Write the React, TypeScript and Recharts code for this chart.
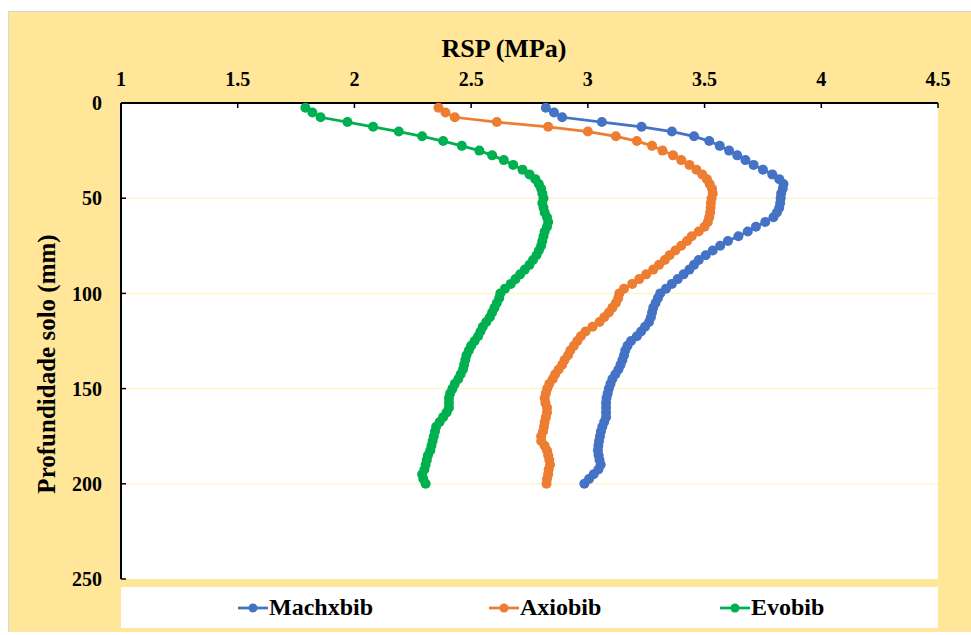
import React from "react";
import { LineChart, Line, XAxis, YAxis, CartesianGrid } from "recharts";

const DEPTHS = [
  2.5, 5, 7.5, 10, 12.5, 15, 17.5, 20, 22.5, 25, 27.5, 30, 32.5, 35, 37.5, 40, 42.5, 45, 47.5, 50,
  52.5, 55, 57.5, 60, 62.5, 65, 67.5, 70, 72.5, 75, 77.5, 80, 82.5, 85, 87.5, 90, 92.5, 95, 97.5, 100,
  102.5, 105, 107.5, 110, 112.5, 115, 117.5, 120, 122.5, 125, 127.5, 130, 132.5, 135, 137.5, 140, 142.5, 145, 147.5, 150,
  152.5, 155, 157.5, 160, 162.5, 165, 167.5, 170, 172.5, 175, 177.5, 180, 182.5, 185, 187.5, 190, 192.5, 195, 197.5, 200,
];

const MACHXBIB = [
  2.82, 2.855, 2.89, 3.06, 3.23, 3.36, 3.455, 3.52, 3.565, 3.605, 3.64, 3.675, 3.71, 3.75, 3.79, 3.82, 3.838, 3.835, 3.828, 3.826,
  3.824, 3.82, 3.81, 3.795, 3.76, 3.72, 3.685, 3.645, 3.6, 3.567, 3.535, 3.505, 3.475, 3.455, 3.435, 3.41, 3.385, 3.36, 3.335, 3.31,
  3.3, 3.29, 3.28, 3.275, 3.27, 3.262, 3.245, 3.228, 3.21, 3.185, 3.17, 3.16, 3.155, 3.148, 3.14, 3.131, 3.118, 3.105, 3.097, 3.09,
  3.085, 3.08, 3.078, 3.078, 3.078, 3.078, 3.07, 3.062, 3.056, 3.052, 3.048, 3.045, 3.043, 3.046, 3.05, 3.055, 3.045, 3.025, 3.005, 2.985,
];

const AXIOBIB = [
  2.36, 2.39, 2.43, 2.61, 2.83, 3.0, 3.12, 3.21, 3.275, 3.32, 3.365, 3.4, 3.435, 3.465, 3.49, 3.51, 3.522, 3.532, 3.535, 3.53,
  3.527, 3.526, 3.524, 3.52, 3.514, 3.5, 3.475, 3.445, 3.425, 3.4, 3.375, 3.35, 3.33, 3.305, 3.28, 3.25, 3.22, 3.19, 3.155, 3.135,
  3.13, 3.12, 3.105, 3.09, 3.07, 3.05, 3.02, 2.99, 2.97, 2.955, 2.94, 2.925, 2.915, 2.9, 2.89, 2.875, 2.86, 2.85, 2.835, 2.826,
  2.82, 2.815, 2.818, 2.825, 2.825, 2.82, 2.815, 2.812, 2.808, 2.8, 2.8, 2.815, 2.825, 2.83, 2.835, 2.838, 2.832, 2.83, 2.825, 2.823,
];

const EVOBIB = [
  1.79, 1.82, 1.855, 1.97, 2.08, 2.19, 2.29, 2.38, 2.46, 2.535, 2.59, 2.64, 2.68, 2.72, 2.75, 2.775, 2.79, 2.8, 2.805, 2.81,
  2.805, 2.81, 2.815, 2.825, 2.83, 2.825, 2.815, 2.81, 2.805, 2.8, 2.79, 2.78, 2.765, 2.75, 2.73, 2.71, 2.69, 2.67, 2.645, 2.625,
  2.62, 2.61, 2.6, 2.59, 2.58, 2.565, 2.55, 2.54, 2.53, 2.515, 2.5, 2.49, 2.48, 2.475, 2.47, 2.465, 2.455, 2.445, 2.43, 2.42,
  2.41, 2.405, 2.405, 2.405, 2.395, 2.38, 2.365, 2.35, 2.345, 2.34, 2.335, 2.33, 2.325, 2.315, 2.31, 2.305, 2.3, 2.29, 2.295, 2.305,
];

const X_TICKS = [1, 1.5, 2, 2.5, 3, 3.5, 4, 4.5];
const Y_TICKS = [0, 50, 100, 150, 200, 250];

const SERIES = [
  { key: "machxbib", name: "Machxbib", color: "#4472C4" },
  { key: "axiobib", name: "Axiobib", color: "#ED7D31" },
  { key: "evobib", name: "Evobib", color: "#00B050" },
];

const data = DEPTHS.map((d, i) => ({
  depth: d,
  machxbib: MACHXBIB[i],
  axiobib: AXIOBIB[i],
  evobib: EVOBIB[i],
}));

const font = "'Liberation Serif', 'Times New Roman', serif";
const tickStyle = { fill: "#000", fontSize: 20, fontWeight: 700, fontFamily: font };

const legendPos = [117, 368, 599];

export default function App() {
  return (
    <div
      style={{
        position: "absolute",
        left: 8,
        top: 11,
        width: 962,
        height: 620,
        background: "#FFE699",
        borderTop: "1px solid #d9d9d9",
        borderLeft: "1px solid #d9d9d9",
        fontFamily: font,
      }}
    >
      <LineChart
        width={962}
        height={620}
        data={data}
        layout="vertical"
        margin={{ top: 0, right: 33, bottom: 53, left: 0 }}
      >
        <CartesianGrid
          horizontal
          vertical={false}
          fill="#ffffff"
          stroke="#FFF2CC"
          strokeWidth={1.5}
          horizontalValues={[50, 100, 150, 200]}
        />
        <XAxis
          type="number"
          orientation="top"
          domain={[1, 4.5]}
          ticks={X_TICKS}
          height={91}
          tickSize={-5}
          tickMargin={22}
          interval={0}
          axisLine={{ stroke: "#000", strokeWidth: 2 }}
          tickLine={{ stroke: "#000", strokeWidth: 1.5 }}
          tick={tickStyle}
          label={() => (
            <text
              x={495}
              y={45}
              textAnchor="middle"
              fontSize={26}
              fontWeight={700}
              fontFamily={font}
              fill="#000"
            >
              RSP (MPa)
            </text>
          )}
        />
        <YAxis
          type="number"
          dataKey="depth"
          domain={[0, 250]}
          ticks={Y_TICKS}
          width={112}
          tickSize={-5}
          tickMargin={24}
          interval={0}
          axisLine={{ stroke: "#000", strokeWidth: 2 }}
          tickLine={{ stroke: "#000", strokeWidth: 1.5 }}
          tick={tickStyle}
          label={() => (
            <text
              x={46}
              y={352}
              transform="rotate(-90, 46, 352)"
              textAnchor="middle"
              fontSize={25}
              fontWeight={700}
              fontFamily={font}
              fill="#000"
            >
              Profundidade solo (mm)
            </text>
          )}
        />
        {SERIES.map((s) => (
          <Line
            key={s.key}
            dataKey={s.key}
            name={s.name}
            stroke={s.color}
            strokeWidth={2.75}
            dot={{ r: 5, fill: s.color, stroke: s.color, strokeWidth: 0 }}
            activeDot={false}
            isAnimationActive={false}
          />
        ))}
      </LineChart>
      <div
        style={{
          position: "absolute",
          left: 112,
          top: 575,
          width: 817,
          height: 41,
          background: "#fff",
        }}
      >
        {SERIES.map((s, i) => (
          <div
            key={s.key}
            style={{
              position: "absolute",
              left: legendPos[i],
              top: 0,
              height: 41,
              display: "flex",
              alignItems: "center",
            }}
          >
            <svg width={30} height={12}>
              <line x1={0} y1={6} x2={30} y2={6} stroke={s.color} strokeWidth={2.75} />
              <circle cx={15} cy={6} r={4.5} fill={s.color} />
            </svg>
            <span style={{ fontSize: 24, fontWeight: 700, color: "#000", marginLeft: 1 }}>
              {s.name}
            </span>
          </div>
        ))}
      </div>
    </div>
  );
}
